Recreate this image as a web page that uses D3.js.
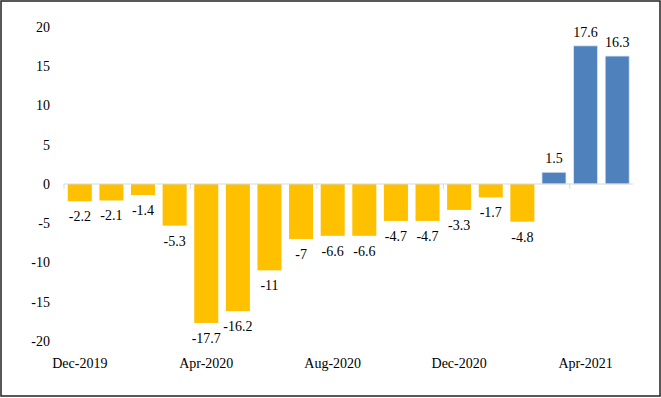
<!DOCTYPE html>
<html>
<head>
<meta charset="utf-8">
<script src="https://cdn.jsdelivr.net/npm/d3@7"></script>
<style>
  body { margin: 0; background: #fff; }
  text { font-family: "Liberation Serif", "Times New Roman", serif; fill: #000; }
</style>
</head>
<body>
<svg id="chart" width="661" height="398"></svg>
<script>
var months = ["Dec-2019", "Jan-2020", "Feb-2020", "Mar-2020", "Apr-2020", "May-2020",
  "Jun-2020", "Jul-2020", "Aug-2020", "Sep-2020", "Oct-2020", "Nov-2020",
  "Dec-2020", "Jan-2021", "Feb-2021", "Mar-2021", "Apr-2021", "May-2021"];
var values = [-2.2, -2.1, -1.4, -5.3, -17.7, -16.2, -11, -7, -6.6, -6.6, -4.7, -4.7,
  -3.3, -1.7, -4.8, 1.5, 17.6, 16.3];
var yTicks = [-20, -15, -10, -5, 0, 5, 10, 15, 20];
var shownMonths = ["Dec-2019", "Apr-2020", "Aug-2020", "Dec-2020", "Apr-2021"];

var data = months.map(function(m, i) { return {month: m, value: values[i]}; });

var svg = d3.select("#chart"),
    width = +svg.attr("width"),
    height = +svg.attr("height");

// outer frame
svg.append("rect")
    .attr("x", 1).attr("y", 1)
    .attr("width", width - 2).attr("height", height - 3)
    .attr("fill", "none")
    .attr("stroke", "#222")
    .attr("stroke-width", 1.5);

var x = d3.scaleBand()
    .domain(months)
    .range([64, 633])
    .paddingInner(0.24)
    .paddingOuter(0.12);

var y = d3.scaleLinear()
    .domain([-20, 20])
    .range([341, 27]);

// y tick labels (no axis line)
svg.append("g")
    .selectAll("text")
    .data(yTicks)
    .enter().append("text")
    .attr("x", 50)
    .attr("y", function(d) { return y(d); })
    .attr("dy", "0.35em")
    .attr("text-anchor", "end")
    .style("font-size", "14px")
    .text(function(d) { return d; });

// bars
svg.append("g")
    .selectAll("rect")
    .data(data)
    .enter().append("rect")
    .attr("x", function(d) { return x(d.month); })
    .attr("width", x.bandwidth())
    .attr("y", function(d) { return y(Math.max(0, d.value)); })
    .attr("height", function(d) { return Math.abs(y(d.value) - y(0)); })
    .attr("fill", function(d) { return d.value < 0 ? "#FFC000" : "#4F81BD"; })
    .attr("stroke", function(d) { return d.value < 0 ? "none" : "#dfe7f2"; })
    .attr("stroke-width", 0.8);

// zero line with ticks every 4 months
var gap = (x.step() - x.bandwidth()) / 2;
svg.append("line")
    .attr("x1", 64).attr("x2", 633)
    .attr("y1", y(0)).attr("y2", y(0))
    .attr("stroke", "#d9d9d9")
    .attr("stroke-width", 1);

svg.append("g")
    .selectAll("line")
    .data(months.filter(function(m, i) { return i % 4 === 0; }))
    .enter().append("line")
    .attr("x1", function(d) { return x(d) - gap; })
    .attr("x2", function(d) { return x(d) - gap; })
    .attr("y1", y(0)).attr("y2", y(0) + 5)
    .attr("stroke", "#d9d9d9");

// value labels
svg.append("g")
    .selectAll("text")
    .data(data)
    .enter().append("text")
    .attr("x", function(d) { return x(d.month) + x.bandwidth() / 2; })
    .attr("y", function(d) { return d.value < 0 ? y(d.value) + 20 : y(d.value) - 9; })
    .attr("text-anchor", "middle")
    .style("font-size", "14px")
    .text(function(d) { return d.value; });

// month labels
svg.append("g")
    .selectAll("text")
    .data(shownMonths)
    .enter().append("text")
    .attr("x", function(d) { return x(d) + x.bandwidth() / 2; })
    .attr("y", 368)
    .attr("text-anchor", "middle")
    .style("font-size", "14px")
    .text(function(d) { return d; });
</script>
</body>
</html>
